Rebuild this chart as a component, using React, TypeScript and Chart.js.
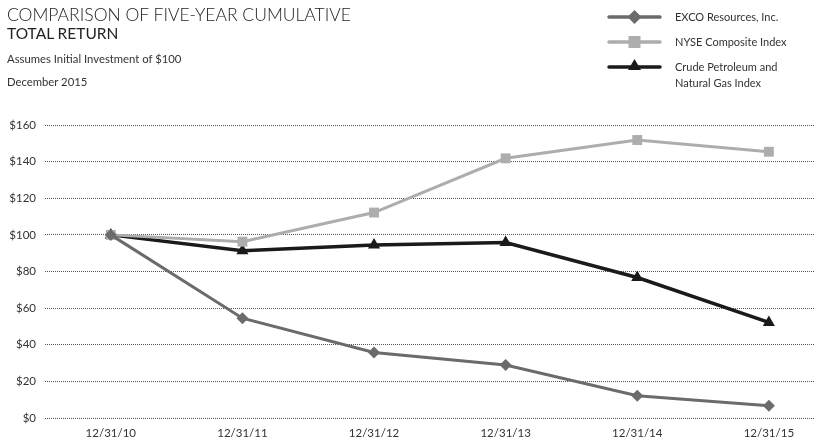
import React, { useEffect, useRef } from "react";
import { Chart, registerables } from "chart.js";

Chart.register(...registerables);

const categories = ["12/31/10", "12/31/11", "12/31/12", "12/31/13", "12/31/14", "12/31/15"];
const excoValues = [100, 54.5, 35.8, 28.9, 12.2, 6.7];
const nyseValues = [100, 96.3, 112.2, 141.8, 151.8, 145.4];
const crudeValues = [100, 91.3, 94.5, 95.8, 76.7, 52.2];
const seriesNames = ["EXCO Resources, Inc.", "NYSE Composite Index", "Crude Petroleum and\nNatural Gas Index"];

const FONT = "Lato, 'Open Sans', sans-serif";

const legendPlugin = {
  id: "customLegend",
  afterDraw(chart: any) {
    const ctx = chart.ctx;
    const rows = [17, 42, 67];
    ctx.save();
    chart.data.datasets.forEach((ds: any, i: number) => {
      const y = rows[i];
      ctx.strokeStyle = ds.borderColor;
      ctx.lineWidth = 3.5;
      ctx.lineCap = "round";
      ctx.beginPath();
      ctx.moveTo(609, y);
      ctx.lineTo(660, y);
      ctx.stroke();
      ctx.fillStyle = ds.pointBackgroundColor;
      const cx = 634.5;
      ctx.beginPath();
      if (ds.pointStyle === "rectRot") {
        const r = 7;
        ctx.moveTo(cx, y - r);
        ctx.lineTo(cx + r, y);
        ctx.lineTo(cx, y + r);
        ctx.lineTo(cx - r, y);
        ctx.closePath();
      } else if (ds.pointStyle === "rect") {
        ctx.rect(cx - 6, y - 6, 12, 12);
      } else {
        ctx.moveTo(cx, y - 8);
        ctx.lineTo(cx + 6.5, y + 3);
        ctx.lineTo(cx - 6.5, y + 3);
        ctx.closePath();
      }
      ctx.fill();
      ctx.fillStyle = "#333";
      ctx.font = `11px ${FONT}`;
      ctx.textBaseline = "middle";
      ctx.textAlign = "left";
      const lines = String(seriesNames[i]).split("\n");
      lines.forEach((ln, k) => ctx.fillText(ln, 675, y + k * 16.5));
    });
    ctx.restore();
  },
};

export default function App() {
  const ref = useRef<HTMLCanvasElement | null>(null);
  useEffect(() => {
    if (!ref.current) return;
    const mk = (vals: number[]) => vals.map((v, i) => ({ x: i, y: v }));
    const chart = new Chart(ref.current, {
      type: "line",
      data: {
        datasets: [
          {
            label: seriesNames[0],
            data: mk(excoValues),
            borderColor: "#6b6b6b",
            backgroundColor: "#6b6b6b",
            pointBackgroundColor: "#6b6b6b",
            pointBorderColor: "#6b6b6b",
            borderWidth: 3,
            pointStyle: "rectRot",
            pointRadius: 6,
            pointBorderWidth: 0,
          },
          {
            label: seriesNames[1],
            data: mk(nyseValues),
            borderColor: "#adadad",
            backgroundColor: "#adadad",
            pointBackgroundColor: "#adadad",
            pointBorderColor: "#adadad",
            borderWidth: 3,
            pointStyle: "rect",
            pointRadius: 7,
            pointBorderWidth: 0,
          },
          {
            label: seriesNames[2],
            data: mk(crudeValues),
            borderColor: "#1a1a1a",
            backgroundColor: "#1a1a1a",
            pointBackgroundColor: "#1a1a1a",
            pointBorderColor: "#1a1a1a",
            borderWidth: 3.5,
            pointStyle: "triangle",
            pointRadius: 7,
            pointBorderWidth: 0,
          },
        ] as any,
      },
      options: {
        animation: false,
        responsive: false,
        maintainAspectRatio: false,
        layout: { padding: { top: 125, right: 1, left: 0, bottom: 0 } },
        plugins: { legend: { display: false }, tooltip: { enabled: false } },
        scales: {
          x: {
            type: "linear",
            min: -0.5,
            max: 5.343,
            grid: { display: false, drawTicks: false },
            border: { display: false },
            afterBuildTicks: (scale: any) => {
              scale.ticks = categories.map((_, i) => ({ value: i }));
            },
            afterFit: (scale: any) => {
              scale.height = 22;
            },
            ticks: {
              padding: 8,
              color: "#333",
              font: { family: FONT, size: 11.5 },
              maxRotation: 0,
              autoSkip: false,
              callback: (v: any) => categories[Math.round(Number(v))] ?? "",
            },
          },
          y: {
            min: 0,
            max: 160,
            grid: {
              color: "#555",
              lineWidth: 1,
              drawTicks: false,
            },
            border: { display: false, dash: [1, 1] },
            afterFit: (scale: any) => {
              scale.width = 45;
            },
            ticks: {
              stepSize: 20,
              padding: 9,
              color: "#333",
              font: { family: FONT, size: 11.5 },
              callback: (v: any) => "$" + v,
            },
          },
        },
      },
      plugins: [legendPlugin],
    } as any);
    return () => chart.destroy();
  }, []);

  return (
    <div style={{ position: "absolute", left: 0, top: 0, width: 821, height: 440, background: "#fff", fontFamily: FONT }}>
      <canvas ref={ref} width={821} height={440} style={{ position: "absolute", left: 0, top: 0, width: 821, height: 440 }} />
      <div style={{ position: "absolute", left: 7, top: 5, fontSize: 17.5, fontWeight: 300, color: "#222", lineHeight: "20px", whiteSpace: "nowrap" }}>
        COMPARISON OF FIVE-YEAR CUMULATIVE
      </div>
      <div style={{ position: "absolute", left: 7, top: 23, fontSize: 15.5, fontWeight: 400, color: "#222", lineHeight: "20px", whiteSpace: "nowrap" }}>
        TOTAL RETURN
      </div>
      <div style={{ position: "absolute", left: 7, top: 52, fontSize: 11.3, color: "#333", lineHeight: "14px", whiteSpace: "nowrap" }}>
        Assumes Initial Investment of $100
      </div>
      <div style={{ position: "absolute", left: 7, top: 75, fontSize: 11.3, color: "#333", lineHeight: "14px", whiteSpace: "nowrap" }}>
        December 2015
      </div>
    </div>
  );
}
